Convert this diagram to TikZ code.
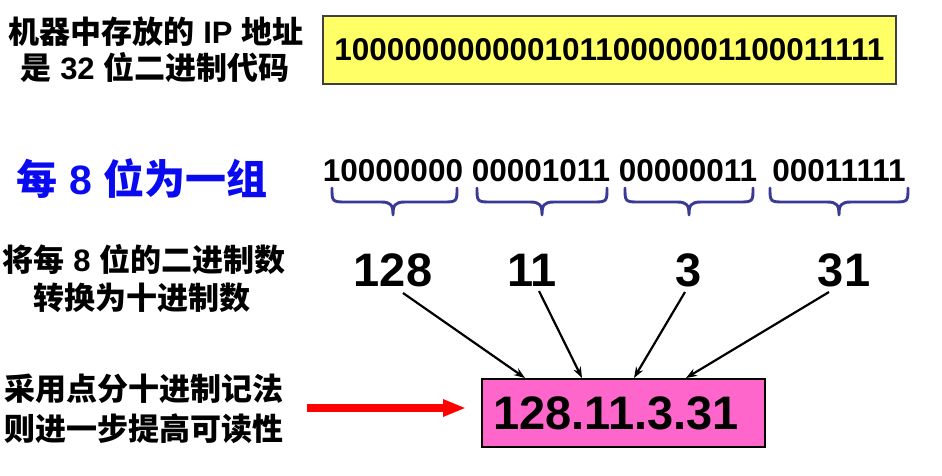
\documentclass[tikz,border=0pt]{standalone}
\usepackage{fontspec}
\setmainfont{Liberation Sans}
\newfontfamily\cjk{Noto Sans CJK SC}
\usetikzlibrary{arrows.meta}
\definecolor{ylw}{RGB}{255,255,102}
\definecolor{pnk}{RGB}{255,102,204}
\definecolor{brc}{RGB}{58,58,150}
\definecolor{blu}{RGB}{10,10,240}
\begin{document}
\begin{tikzpicture}[x=1pt,y=-1pt,
  lbl/.style={inner sep=0pt, font=\fontsize{31}{37}\selectfont\bfseries},
  bits/.style={inner sep=0pt, font=\fontsize{31.5}{37}\selectfont\bfseries},
  big/.style={inner sep=0pt, font=\fontsize{47}{56}\selectfont\bfseries},
  brace/.style={draw=brc, line width=2.9pt, line cap=round, line join=round},
  arr/.style={line width=2.2pt, -{Stealth[length=11pt,width=8pt]}},
  redarr/.style={draw=red, line width=7.5pt, -{Triangle[length=23pt,width=16pt]}}
]
\useasboundingbox (0,0) rectangle (942,475);
% left labels
\node[lbl] (l1a) at (156,32) {{\cjk 机器中存放的} IP {\cjk 地址}};
\node[lbl] (l1b) at (155,67) {{\cjk 是} 32 {\cjk 位二进制代码}};
\node[inner sep=0pt, font=\fontsize{41}{48}\selectfont\bfseries, text=blu] (grp) at (142,179) {{\cjk 每} 8 {\cjk 位为一组}};
\node[lbl] (l2a) at (144,260) {{\cjk 将每} 8 {\cjk 位的二进制数}};
\node[lbl] (l2b) at (142,298) {{\cjk 转换为十进制数}};
\node[lbl] (l3a) at (144,389) {{\cjk 采用点分十进制记法}};
\node[lbl] (l3b) at (144,429) {{\cjk 则进一步提高可读性}};
% yellow box
\node[bits, draw=black!75, line width=1.2pt, fill=ylw, minimum width=573pt, minimum height=68pt] (bin) at (609.5,50) {10000000000010110000001100011111};
% groups
\node[bits] (g1) at (393,171) {10000000};
\node[bits] (g2) at (541,171) {00001011};
\node[bits] (g3) at (688,171) {00000011};
\node[bits] (g4) at (839,171) {00011111};
% braces
\foreach \a/\m/\b in {332/393/457, 477/542/607, 625/689/753, 770/839/908}{
  \draw[brace] (\a,188) .. controls (\a,201) and (\a,202) .. (\a+13,202) -- (\m-12,202)
     .. controls (\m-2,202) and (\m,205) .. (\m,215)
     .. controls (\m,205) and (\m+2,202) .. (\m+12,202) -- (\b-13,202)
     .. controls (\b,202) and (\b,201) .. (\b,188);
}
% decimal numbers
\node[big] (n1) at (393,270) {128};
\node[big] (n2) at (532,270) {11};
\node[big] (n3) at (689,270) {3};
\node[big] (n4) at (844,270) {31};
% dotted decimal box
\node[big, draw=black, line width=2pt, fill=pnk, minimum height=68pt, inner xsep=11pt, inner ysep=0pt, text width=261pt, align=left] (ip) at (623.5,413) {128.11.3.31};
% arrows
\draw[arr] ([shift={(10,23)}]n1.center) -- ([xshift=44pt]ip.north west);
\draw[arr] ([shift={(7,21)}]n2.center) -- ([xshift=101pt]ip.north west);
\draw[arr] ([shift={(-4,22)}]n3.center) -- ([xshift=153pt]ip.north west);
\draw[arr] ([shift={(-15,22)}]n4.center) -- ([xshift=205pt]ip.north west);
% red arrow
\coordinate (rs) at (307,408);
\draw[redarr] (rs) -- ([xshift=-15pt]ip.west |- rs);
\end{tikzpicture}
\end{document}
